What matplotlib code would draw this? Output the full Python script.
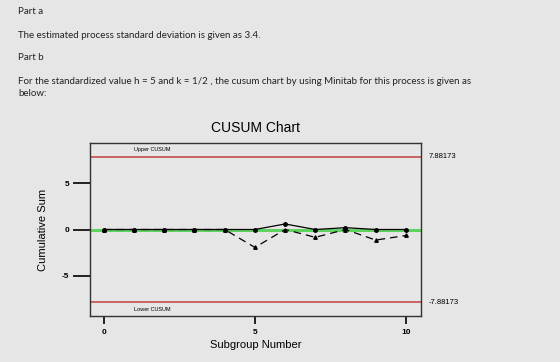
import matplotlib
matplotlib.use("Agg")
import matplotlib.pyplot as plt

subgroups = [0, 1, 2, 3, 4, 5, 6, 7, 8, 9, 10]
upper_cusum = [0, 0, 0, 0, 0, 0, 0.6, 0, 0.2, 0, 0]
lower_cusum = [0, 0, 0, 0, 0, -1.95, 0, -0.85, 0, -1.15, -0.65]
ucl = 7.88173
lcl = -7.88173
yticks = [-5, 0, 5]
xticks = [0, 5, 10]

plt.rcParams["axes.unicode_minus"] = False
plt.rcParams["font.family"] = ["Liberation Sans", "DejaVu Sans"]

bg = "#e6e6e6"
fig = plt.figure(figsize=(5.6, 3.62), dpi=100, facecolor=bg)

# text above the chart
intro = ["Part a",
         "The estimated process standard deviation is given as 3.4.",
         "Part b",
         "For the standardized value h = 5 and k = 1/2 , the cusum chart by using Minitab for this process is given as",
         "below:"]
intro_y = [12, 35, 58, 81, 94]
for line, yy in zip(intro, intro_y):
    fig.text(18 / 560, 1 - yy / 362, line, fontsize=7, va="center",
             color="#222222", family=["Lato", "DejaVu Sans"])

ax = fig.add_axes([90 / 560, 1 - 316 / 362, 331 / 560, 173 / 362])
ax.set_facecolor(bg)

ax.axhline(0, color="#5fd35f", linewidth=2.2, zorder=1)
ax.axhline(ucl, color="#c04040", linewidth=1.1, zorder=1)
ax.axhline(lcl, color="#c04040", linewidth=1.1, zorder=1)

ax.plot(subgroups, upper_cusum, color="black", linewidth=0.9, marker="o", markersize=2.5, zorder=3)
ax.plot(subgroups, lower_cusum, color="black", linewidth=0.9, linestyle=(0, (6, 4)),
        marker="^", markersize=2.5, zorder=3)

ax.set_xlim(-0.46, 10.5)
ax.set_ylim(-9.4, 9.4)
ax.set_xticks(xticks)
ax.set_yticks(yticks)
ax.tick_params(axis="y", direction="out", length=12, width=1.2, labelsize=6, pad=3)
ax.tick_params(axis="x", direction="out", length=6, width=1.2, labelsize=6, pad=3)
for lbl in ax.get_xticklabels() + ax.get_yticklabels():
    lbl.set_fontweight("bold")
for s in ax.spines.values():
    s.set_linewidth(1.0)
    s.set_color("#333333")

ax.text(1.0, 8.7, "Upper CUSUM", fontsize=4, va="center", ha="left")
ax.text(1.0, -8.7, "Lower CUSUM", fontsize=4, va="center", ha="left")
ax.text(10.75, ucl, "7.88173", fontsize=5.5, va="center", ha="left", clip_on=False)
ax.text(10.75, lcl, "-7.88173", fontsize=5.5, va="center", ha="left", clip_on=False)

ax.set_title("CUSUM Chart", fontsize=10, pad=8)
ax.set_xlabel("Subgroup Number", fontsize=8, labelpad=3)
ax.set_ylabel("Cumulative Sum", fontsize=8, labelpad=10)

fig.savefig("out.png", dpi=100, facecolor=bg)
